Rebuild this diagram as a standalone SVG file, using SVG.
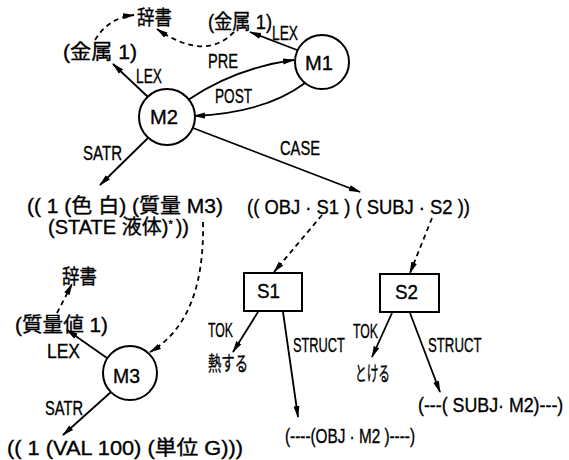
<svg xmlns="http://www.w3.org/2000/svg" width="569" height="460" viewBox="0 0 569 460">
<style>
text{font-family:"Liberation Sans","Noto Sans CJK JP",sans-serif;font-size:20px;fill:#000;stroke:#000;stroke-width:0.35}
.n{fill:#fff;stroke:#000;stroke-width:2}
.e{fill:none;stroke:#000;stroke-width:1.8}
.d{fill:none;stroke:#000;stroke-width:1.8;stroke-dasharray:5 4}
</style>
<defs>
<marker id="a" viewBox="0 0 12 7" refX="11" refY="3.5" markerWidth="12" markerHeight="7" markerUnits="userSpaceOnUse" orient="auto">
<path d="M0,0.5 L12,3.5 L0,6.5 z" fill="#000"/>
</marker>
</defs>
<g id="connectors">
<line class="e" x1="148" y1="97" x2="113" y2="64" marker-end="url(#a)"/>
<line class="e" x1="297" y1="50" x2="250" y2="32" marker-end="url(#a)"/>
<path class="e" d="M188 100 Q235 68 294 60" marker-end="url(#a)"/>
<path class="e" d="M305 83 Q265 113 194 116" marker-end="url(#a)"/>
<line class="e" x1="148" y1="138" x2="100" y2="185" marker-end="url(#a)"/>
<line class="e" x1="193" y1="128" x2="360" y2="192" marker-end="url(#a)"/>
<path class="d" d="M95 40 Q108 18 134 15" marker-end="url(#a)"/>
<path class="d" d="M234 32 Q205 62 157 29" marker-end="url(#a)"/>
<path class="d" d="M203 222 Q205 320 150 352" stroke-dasharray="4 4" marker-end="url(#a)"/>
<line class="d" x1="322" y1="215" x2="274" y2="272" marker-end="url(#a)"/>
<line class="d" x1="432" y1="218" x2="410" y2="273" marker-end="url(#a)"/>
<line class="e" x1="258" y1="312" x2="233" y2="352" marker-end="url(#a)"/>
<line class="e" x1="283" y1="312" x2="298" y2="417" marker-end="url(#a)"/>
<line class="e" x1="392" y1="313" x2="372" y2="357" marker-end="url(#a)"/>
<line class="e" x1="410" y1="313" x2="440" y2="392" marker-end="url(#a)"/>
<line class="d" x1="57" y1="313" x2="72" y2="284" marker-end="url(#a)"/>
<line class="e" x1="107" y1="358" x2="67" y2="330" marker-end="url(#a)"/>
<line class="e" x1="111" y1="392" x2="63" y2="435" marker-end="url(#a)"/>
</g>
<g id="M1"><circle class="n" cx="322" cy="62" r="27"/><text x="305" y="70" textLength="28" lengthAdjust="spacingAndGlyphs">M1</text></g>
<g id="M2"><circle class="n" cx="167" cy="117" r="28"/><text x="150" y="124" textLength="28" lengthAdjust="spacingAndGlyphs">M2</text></g>
<g id="M3"><circle class="n" cx="130" cy="373" r="27"/><text x="113" y="383" textLength="27" lengthAdjust="spacingAndGlyphs">M3</text></g>
<g id="S1"><rect class="n" x="244" y="273" width="58" height="38"/><text x="257" y="298" textLength="23" lengthAdjust="spacingAndGlyphs">S1</text></g>
<g id="S2"><rect class="n" x="380" y="274" width="59" height="38"/><text x="395" y="299" textLength="23" lengthAdjust="spacingAndGlyphs">S2</text></g>
<g id="labels">
<text x="137" y="25" textLength="35" lengthAdjust="spacingAndGlyphs">辞書</text>
<text x="63" y="59" textLength="74" lengthAdjust="spacingAndGlyphs">(金属 1)</text>
<text x="208" y="29" textLength="64" lengthAdjust="spacingAndGlyphs">(金属 1)</text>
<text x="272" y="40" textLength="26" lengthAdjust="spacingAndGlyphs">LEX</text>
<text x="136" y="83" textLength="26" lengthAdjust="spacingAndGlyphs">LEX</text>
<text x="208" y="68" textLength="30" lengthAdjust="spacingAndGlyphs">PRE</text>
<text x="215" y="103" textLength="37" lengthAdjust="spacingAndGlyphs">POST</text>
<text x="83" y="160" textLength="39" lengthAdjust="spacingAndGlyphs">SATR</text>
<text x="280" y="155" textLength="40" lengthAdjust="spacingAndGlyphs">CASE</text>
<text x="27" y="213" textLength="196" lengthAdjust="spacingAndGlyphs">(( 1 (色 白) (質量 M3)</text>
<text x="48" y="234" font-size="18">(STATE 液体)<tspan font-size="11" dy="-6">*</tspan><tspan font-size="20" dx="3" dy="6">))</tspan></text>
<text x="247" y="214" textLength="223" lengthAdjust="spacingAndGlyphs">(( OBJ · S1 ) ( SUBJ · S2 ))</text>
<text x="208" y="337" textLength="25" lengthAdjust="spacingAndGlyphs">TOK</text>
<text x="208" y="371" textLength="40" lengthAdjust="spacingAndGlyphs">熱する</text>
<text transform="translate(293 352) scale(0.64 1)">STRUCT</text>
<text x="285" y="443" textLength="130" lengthAdjust="spacingAndGlyphs">(----(OBJ · M2 )----)</text>
<text x="353" y="338" textLength="25" lengthAdjust="spacingAndGlyphs">TOK</text>
<text x="355" y="381" textLength="35" lengthAdjust="spacingAndGlyphs">とける</text>
<text transform="translate(428 352) scale(0.66 1)">STRUCT</text>
<text transform="translate(418 412) scale(0.89 1)">(---( SUBJ· M2)---)</text>
<text x="62" y="284" textLength="35" lengthAdjust="spacingAndGlyphs">辞書</text>
<text x="15" y="332" textLength="93" lengthAdjust="spacingAndGlyphs">(質量値 1)</text>
<text x="47" y="358" textLength="33" lengthAdjust="spacingAndGlyphs">LEX</text>
<text x="45" y="415" textLength="38" lengthAdjust="spacingAndGlyphs">SATR</text>
<text x="7" y="455" textLength="236" lengthAdjust="spacingAndGlyphs">(( 1 (VAL 100) (単位 G)))</text>
</g>
</svg>
